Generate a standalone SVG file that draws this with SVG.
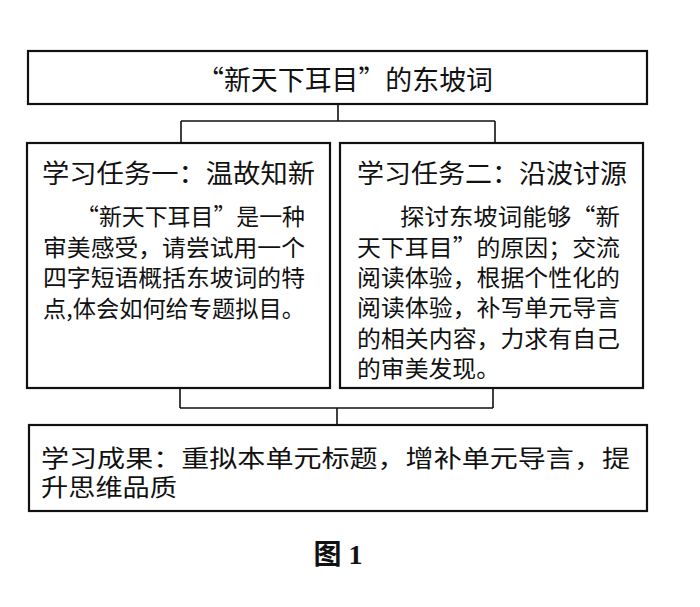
<svg xmlns="http://www.w3.org/2000/svg" width="700" height="607" viewBox="0 0 700 607">
<style>
.box{fill:#fff;stroke:#111;stroke-width:2.2}
.con{fill:none;stroke:#111;stroke-width:1.6}
text{font-family:"Noto Sans CJK SC","Noto Sans CJK JP",sans-serif;fill:#111}
.t{font-size:27px}
.h{font-size:26px}
.b{font-size:23px}
.r{font-size:23.5px}
.cap{font-family:"Liberation Serif","Noto Sans CJK SC",serif;font-size:28px;font-weight:bold}
</style>
<rect width="700" height="607" fill="#fff"/>
<g id="connectors">
<path class="con" d="M338,104 V121 M181,121 H495 M181,121 V143 M495,121 V143"/>
<path class="con" d="M180,388 V408 M493,388 V408 M180,408 H493 M337,408 V425"/>
</g>
<g id="title">
<rect class="box" x="28" y="51" width="619" height="53"/>
<text class="t" x="197" y="90" textLength="296" lengthAdjust="spacingAndGlyphs">“新天下耳目”的东坡词</text>
</g>
<g id="task1">
<rect class="box" x="27" y="143" width="303" height="245"/>
<text class="h" x="42" y="183" textLength="273" lengthAdjust="spacingAndGlyphs">学习任务一：温故知新</text>
<text class="b" x="76" y="225" textLength="229" lengthAdjust="spacingAndGlyphs">“新天下耳目”是一种</text>
<text class="b" x="43" y="256" textLength="262" lengthAdjust="spacingAndGlyphs">审美感受，请尝试用一个</text>
<text class="b" x="43" y="286" textLength="262" lengthAdjust="spacingAndGlyphs">四字短语概括东坡词的特</text>
<text class="b" x="43" y="317" textLength="262" lengthAdjust="spacingAndGlyphs">点,体会如何给专题拟目。</text>
</g>
<g id="task2">
<rect class="box" x="340" y="143" width="303" height="245"/>
<text class="h" x="357" y="183" textLength="270" lengthAdjust="spacingAndGlyphs">学习任务二：沿波讨源</text>
<text class="b" x="400" y="225" textLength="220" lengthAdjust="spacingAndGlyphs">探讨东坡词能够“新</text>
<text class="b" x="357" y="256" textLength="263" lengthAdjust="spacingAndGlyphs">天下耳目”的原因；交流</text>
<text class="b" x="357" y="286" textLength="263" lengthAdjust="spacingAndGlyphs">阅读体验，根据个性化的</text>
<text class="b" x="357" y="316" textLength="263" lengthAdjust="spacingAndGlyphs">阅读体验，补写单元导言</text>
<text class="b" x="357" y="347" textLength="263" lengthAdjust="spacingAndGlyphs">的相关内容，力求有自己</text>
<text class="b" x="357" y="377" textLength="143" lengthAdjust="spacingAndGlyphs">的审美发现。</text>
</g>
<g id="outcome">
<rect class="box" x="29" y="425" width="618" height="86"/>
<text class="r" x="41" y="467" textLength="589" lengthAdjust="spacingAndGlyphs">学习成果：重拟本单元标题，增补单元导言，提</text>
<text class="r" x="41" y="496" textLength="136" lengthAdjust="spacingAndGlyphs">升思维品质</text>
</g>
<text class="cap" x="338" y="564" text-anchor="middle">图 1</text>
</svg>
